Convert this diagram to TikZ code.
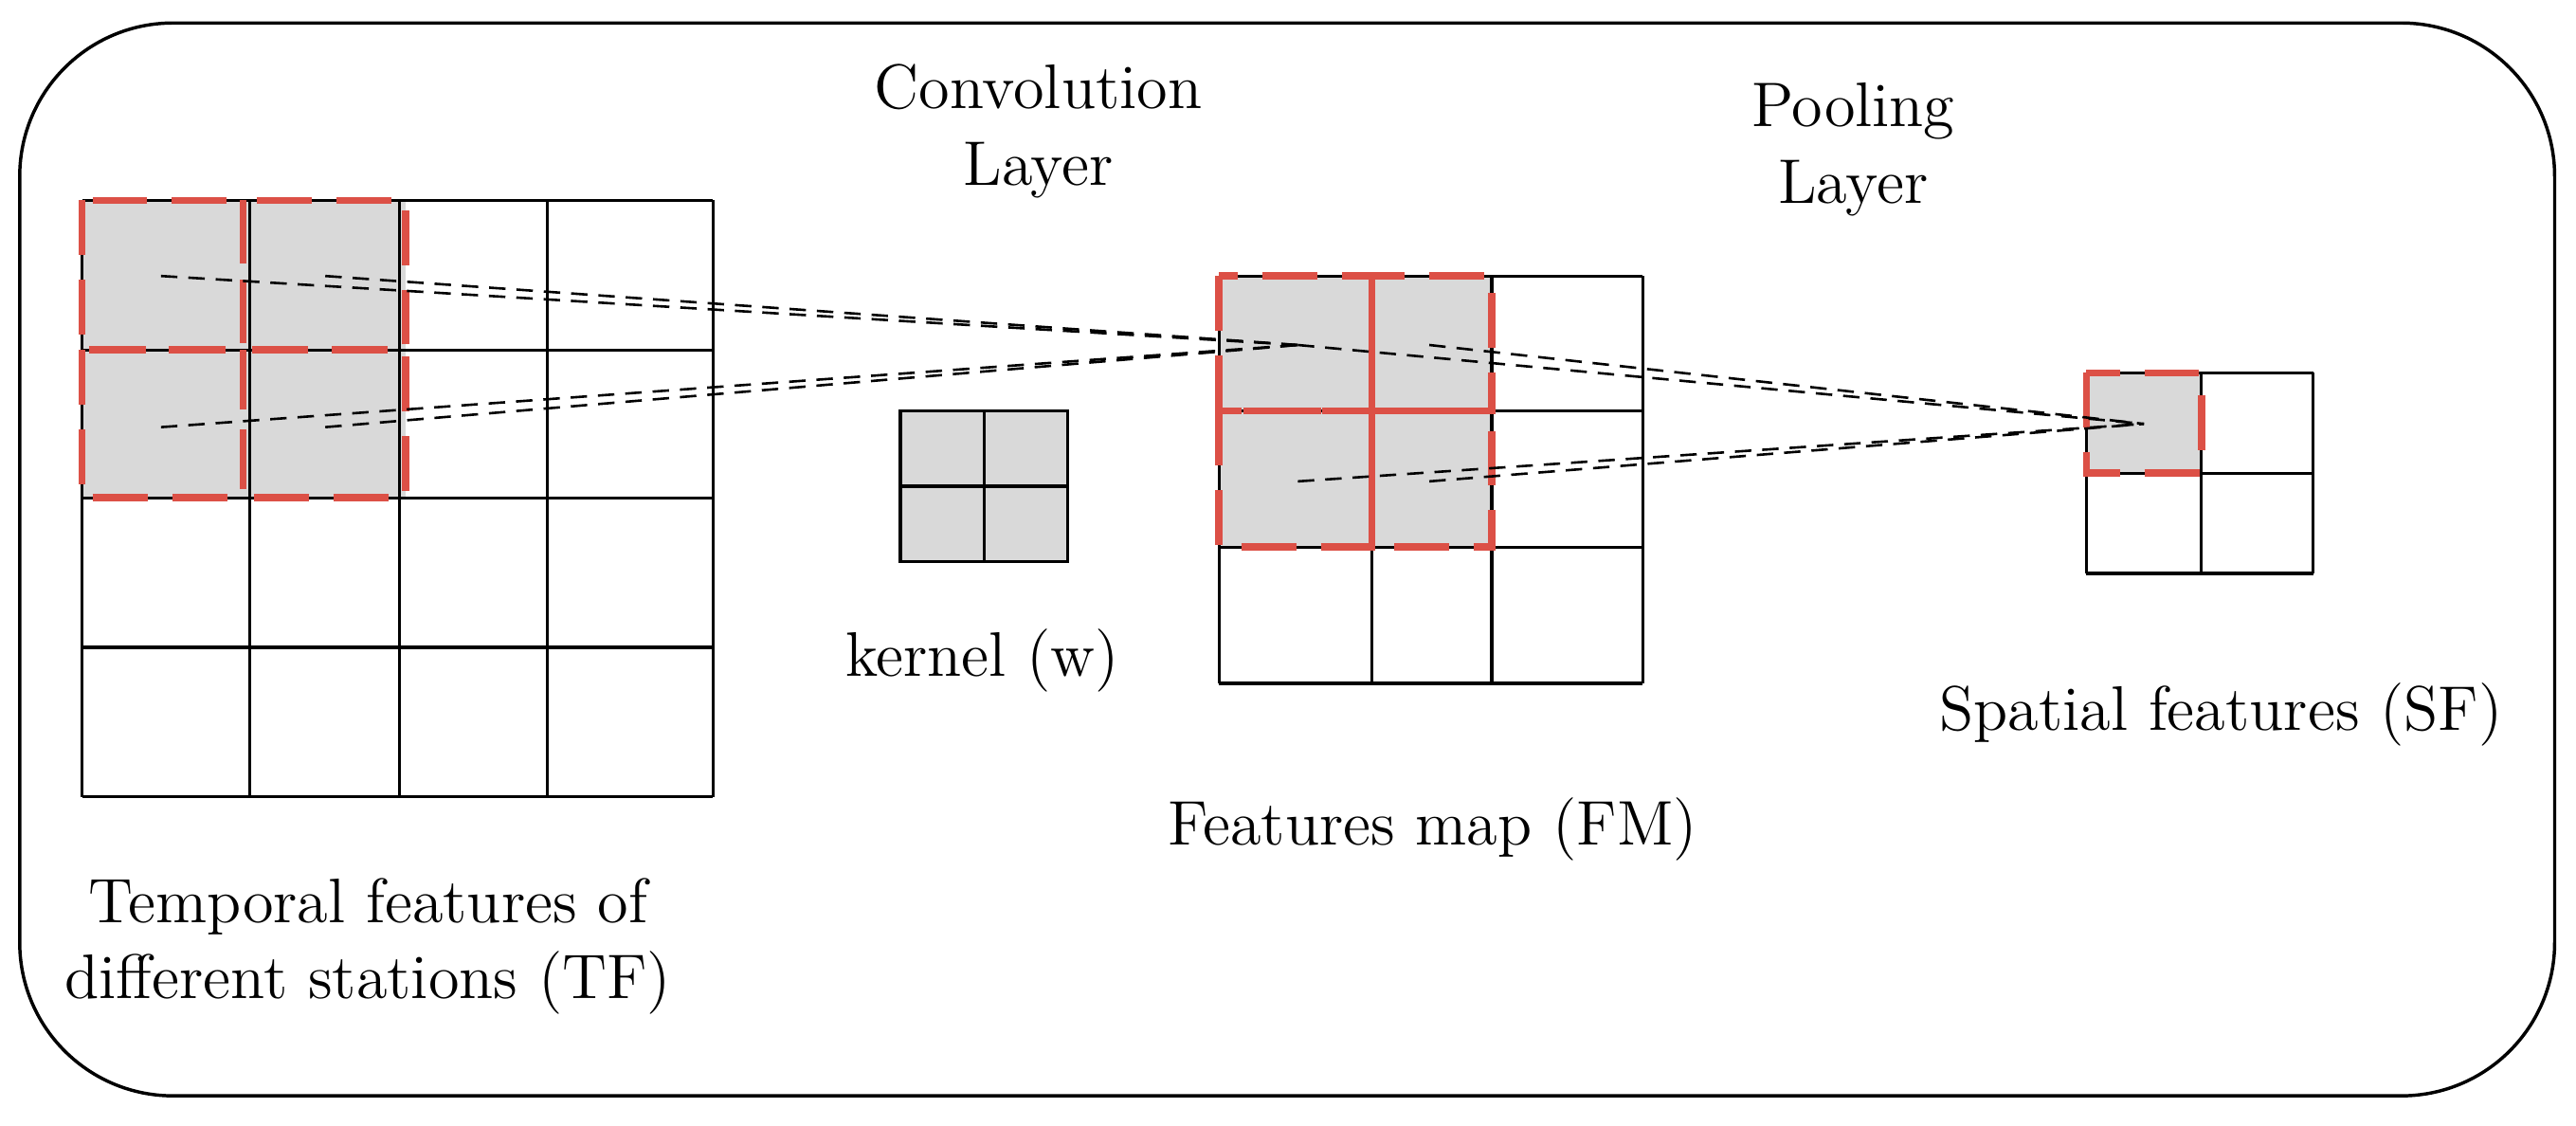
\documentclass[tikz,border=0pt]{standalone}
\begin{document}
\begin{tikzpicture}[x=0.3pt,y=-0.3pt,
  grid/.style={line width=0.55pt,black},
  red/.style={draw={rgb,255:red,220;green,80;blue,70},line width=1.3pt,dash pattern=on 10pt off 4.5pt},
  conn/.style={black,line width=0.45pt,dash pattern=on 3pt off 2pt},
  lbl/.style={font=\fontsize{11.5}{14}\selectfont,align=center,inner sep=0pt}]
\useasboundingbox (0,0) rectangle (1568,685);
\draw[line width=0.6pt,rounded corners=28pt] (12,14) rectangle (1555,667);
% TF
\fill[gray!30] (50,122) rectangle (247,303);
\foreach \x in {50,152,243,333,434} \draw[grid] (\x,122) -- (\x,485);
\foreach \y in {122,213,303,394,485} \draw[grid] (50,\y) -- (434,\y);
\draw[red] (50,122) rectangle (148,213);
\draw[red] (148,122) rectangle (247,213);
\draw[red] (50,213) rectangle (148,303);
\draw[red] (148,213) rectangle (247,303);
% kernel
\fill[gray!30] (548,250) rectangle (650,342);
\draw[grid] (548,250) rectangle (650,342) (599,250) -- (599,342) (548,296) -- (650,296);
% FM
\fill[gray!30] (742,168) rectangle (908,333);
\foreach \x in {742,835,908,1000} \draw[grid] (\x,168) -- (\x,416);
\foreach \y in {168,250,333,416} \draw[grid] (742,\y) -- (1000,\y);
\draw[red] (742,168) rectangle (835,250);
\draw[red] (835,168) rectangle (908,250);
\draw[red] (742,250) rectangle (835,333);
\draw[red] (835,250) rectangle (908,333);
% SF
\fill[gray!30] (1270,227) rectangle (1340,288);
\foreach \x in {1270,1340,1408} \draw[grid] (\x,227) -- (\x,349);
\foreach \y in {227,288,349} \draw[grid] (1270,\y) -- (1408,\y);
\draw[red] (1270,227) rectangle (1340,288);
% connectors
\coordinate (t1) at (98,168); \coordinate (t2) at (198,168);
\coordinate (t3) at (98,260); \coordinate (t4) at (198,260);
\coordinate (fv) at (790,210);
\coordinate (f2) at (870,210); \coordinate (f3) at (790,293); \coordinate (f4) at (870,293);
\coordinate (sv) at (1305,258);
\foreach \p in {t1,t2,t3,t4} \draw[conn] (\p) -- (fv);
\foreach \p in {fv,f2,f3,f4} \draw[conn] (\p) -- (sv);
% labels
\node[lbl] (conv) at (632,80) {Convolution\\Layer};
\node[lbl] (pool) at (1128,91) {Pooling\\Layer};
\node[lbl] (ker) at (598,402) {kernel (w)};
\node[lbl] (fm) at (872,505) {Features map (FM)};
\node[lbl] (sf) at (1352,435) {Spatial features (SF)};
\node[lbl] (tf) at (224,576) {Temporal features of\\different stations (TF)};
\end{tikzpicture}
\end{document}
